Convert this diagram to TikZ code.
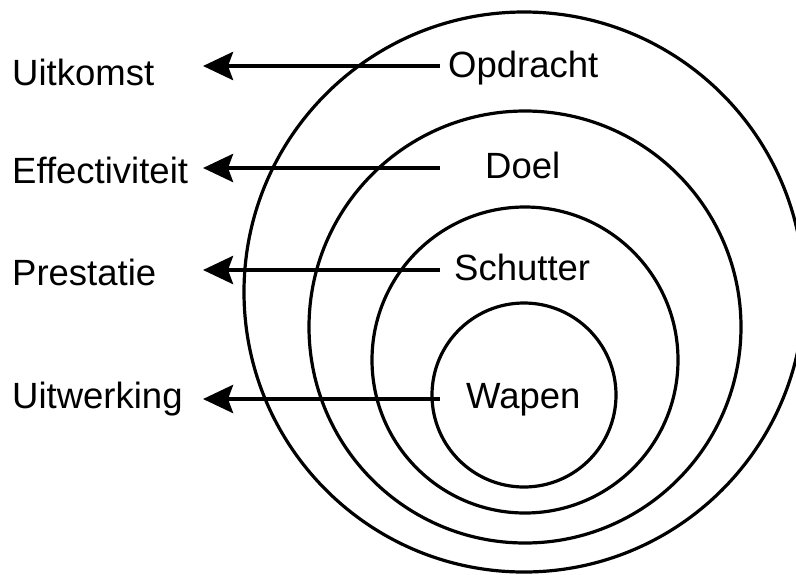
\documentclass[tikz,border=0pt]{standalone}
\usepackage{fontspec}
\setmainfont{Liberation Sans}
\usetikzlibrary{arrows.meta}
\tikzset{
  ring/.style={draw=black, line width=3.2pt},
  lbl/.style={anchor=base west, inner sep=0pt, font=\fontsize{36.5}{40}\selectfont},
  arr/.style={line width=4.5pt, -{Stealth[length=30pt,width=28pt,inset=5pt]}}
}
\begin{document}
\begin{tikzpicture}[x=1pt,y=-1pt]
\useasboundingbox (0,0) rectangle (796,574);
% circles
\draw[ring] (524,292) circle[radius=280];
\draw[ring] (525,327) circle[radius=216];
\draw[ring] (525,360) circle[radius=153];
\draw[ring] (524,395) circle[radius=92];
% right labels
\node[lbl] (opd) at (448,77) {Opdracht};
\node[lbl] (doel) at (485,178) {Doel};
\node[lbl] (sch) at (454,280) {Schutter};
\node[lbl] (wap) at (466,408) {Wapen};
% left labels
\node[lbl] (uit) at (12,85) {Uitkomst};
\node[lbl] (eff) at (12,183) {Effectiviteit};
\node[lbl] (pre) at (12,285) {Prestatie};
\node[lbl] (uw) at (12,408) {Uitwerking};
% arrow ends
\coordinate (s1) at (440,66);
\coordinate (e1) at (203,66);
\coordinate (s2) at (440,168);
\coordinate (e2) at (203,168);
\coordinate (s3) at (440,270);
\coordinate (e3) at (203,270);
\coordinate (s4) at (440,399);
\coordinate (e4) at (203,399);
\draw[arr] (s1) -- (e1);
\draw[arr] (s2) -- (e2);
\draw[arr] (s3) -- (e3);
\draw[arr] (s4) -- (e4);
\end{tikzpicture}
\end{document}
